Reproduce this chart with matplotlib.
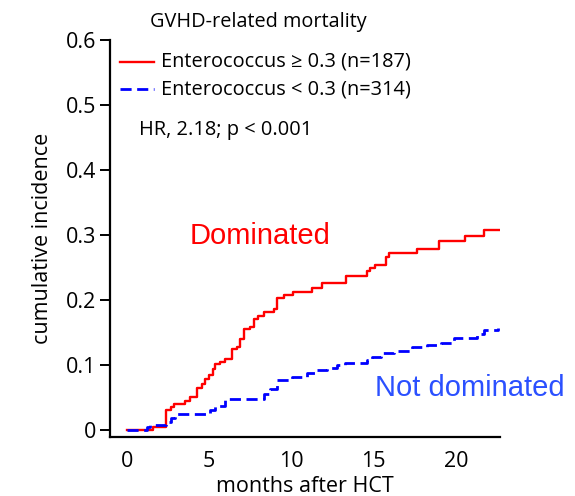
import matplotlib
matplotlib.use("Agg")
import matplotlib.pyplot as plt

# Data (months after HCT, cumulative incidence)
dom_t = [0, 1.57, 2.36, 2.52, 2.68, 2.87, 3.54, 3.84, 4.25, 4.55, 4.76, 4.96, 5.26, 5.37,
         5.67, 5.98, 6.38, 6.69, 6.89, 7.09, 7.5, 7.7, 8.0, 8.31, 8.92, 9.13, 9.53, 10.1,
         11.26, 11.87, 13.33, 14.61, 14.78, 15.06, 15.73, 15.93, 17.66, 18.98, 20.55,
         21.69, 22.74]
dom_v = [0, 0.004, 0.030, 0.030, 0.035, 0.040, 0.045, 0.051, 0.065, 0.071, 0.078, 0.085,
         0.094, 0.101, 0.104, 0.109, 0.125, 0.127, 0.140, 0.155, 0.158, 0.171, 0.176,
         0.181, 0.186, 0.203, 0.208, 0.213, 0.218, 0.226, 0.237, 0.244, 0.249, 0.254,
         0.266, 0.273, 0.278, 0.291, 0.299, 0.307, 0.307]

nd_t = [0, 1.2, 1.4, 2.4, 2.7, 2.9, 5.06, 5.37, 5.98, 8.31, 8.72, 9.13, 10.04, 10.95,
        11.56, 12.17, 12.78, 13.29, 14.61, 14.92, 15.43, 16.24, 17.36, 18.27, 19.08,
        19.89, 21.3, 21.71, 22.54]
nd_v = [0, 0.004, 0.007, 0.012, 0.018, 0.025, 0.030, 0.037, 0.047, 0.055, 0.063, 0.076,
        0.081, 0.087, 0.092, 0.095, 0.100, 0.103, 0.107, 0.112, 0.119, 0.121, 0.127,
        0.131, 0.134, 0.142, 0.148, 0.153, 0.157]

yticks = [0, 0.1, 0.2, 0.3, 0.4, 0.5, 0.6]
ytick_labels = ["0", "0.1", "0.2", "0.3", "0.4", "0.5", "0.6"]
xticks = [0, 5, 10, 15, 20]

font = "Open Sans"
fig = plt.figure(figsize=(5.75, 4.96), dpi=100)
ax = fig.add_axes([0.191, 0.119, 0.679, 0.800])

ax.step(dom_t, dom_v, where="post", color="#ff0000", lw=1.7)
ax.step(nd_t, nd_v, where="post", color="#0000ff", lw=2.0, dashes=(4, 2))

ax.set_xlim(-1.04, 22.7)
ax.set_ylim(-0.011, 0.6)
ax.set_yticks(yticks)
ax.set_yticklabels(ytick_labels)
ax.set_xticks(xticks)
for s in ["top", "right"]:
    ax.spines[s].set_visible(False)
for s in ["left", "bottom"]:
    ax.spines[s].set_linewidth(1.6)
ax.tick_params(axis="y", direction="out", length=7, width=1.4, labelsize=15.5, pad=3)
ax.tick_params(axis="x", length=0, labelsize=15.5, pad=10)
for lab in ax.get_xticklabels() + ax.get_yticklabels():
    lab.set_family(font)

ax.set_xlabel("months after HCT", fontsize=15.5, family=font, labelpad=3)
ax.set_ylabel("cumulative incidence", fontsize=15.5, family=font, labelpad=9)

fig.text(0.449, 0.955, "GVHD-related mortality", fontsize=14.3, family=font,
         ha="center", va="center")

# legend
fig.lines.append(plt.Line2D([120/575, 154/575], [1-62/496, 1-62/496], color="#ff0000",
                            lw=1.7, transform=fig.transFigure))
fig.lines.append(plt.Line2D([120/575, 154/575], [1-89/496, 1-89/496], color="#0000ff",
                            lw=2.0, dashes=(4, 2), transform=fig.transFigure))
fig.text(161/575, 1-62/496, "Enterococcus \u2265 0.3 (n=187)", fontsize=14.4,
         family=[font, "DejaVu Sans"], va="center", ha="left")
fig.text(161/575, 1-89/496, "Enterococcus < 0.3 (n=314)", fontsize=14.4,
         family=font, va="center", ha="left")
fig.text(139/575, 1-130/496, "HR, 2.18; p < 0.001", fontsize=14.4, family=font,
         va="center", ha="left")

fig.text(260/575, 1-236/496, "Dominated", fontsize=21, family="Liberation Sans",
         color="#ff0000", ha="center", va="center")
fig.text(470/575, 1-388/496, "Not dominated", fontsize=21, family="Liberation Sans",
         color="#2b50ff", ha="center", va="center")

fig.savefig("out.png", dpi=100)
